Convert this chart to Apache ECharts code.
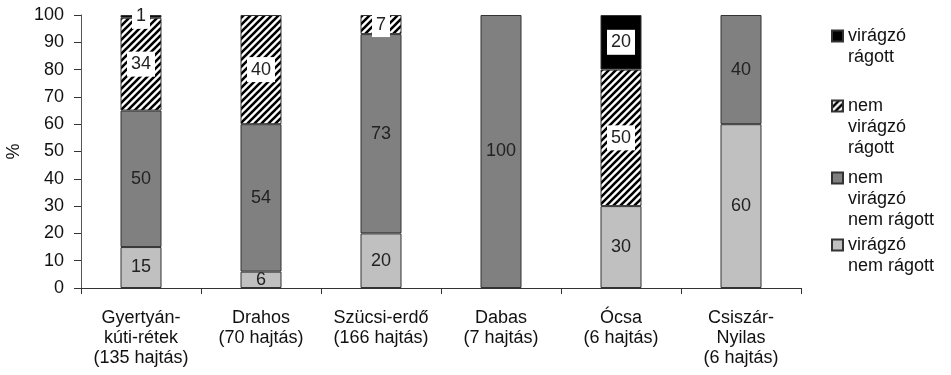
<!DOCTYPE html>
<html>
<head>
<meta charset="utf-8">
<script src="https://cdn.jsdelivr.net/npm/echarts@6/dist/echarts.min.js"></script>
<style>
  html, body { margin: 0; padding: 0; background: #fff; }
  #chart { width: 951px; height: 375px; }
</style>
</head>
<body>
<div id="chart"></div>
<script>
// Sites (with number of shoots sampled)
const categories = [
  'Gyertyán-\nkúti-rétek\n(135 hajtás)',
  'Drahos\n(70 hajtás)',
  'Szücsi-erdő\n(166 hajtás)',
  'Dabas\n(7 hajtás)',
  'Ócsa\n(6 hajtás)',
  'Csiszár-\nNyilas\n(6 hajtás)'
];

// Percentages per shoot type, bottom to top of each stack
const viragzoNemRagott    = [15, 6, 20, 0, 30, 60];
const nemViragzoNemRagott = [50, 54, 73, 100, 0, 40];
const nemViragzoRagott    = [34, 40, 7, 0, 50, 0];
const viragzoRagott       = [1, 0, 0, 0, 20, 0];

const seriesNames = [
  'virágzó\nnem rágott',
  'nem\nvirágzó\nnem rágott',
  'nem\nvirágzó\nrágott',
  'virágzó\nrágott'
];

const yMin = 0, yMax = 100, yStep = 10;

const FONT = 'Liberation Sans, Arial, sans-serif';
const FS = 18;

// Diagonal black/white hatch used for the "nem virágzó rágott" segments
function makeHatch() {
  const s = 7;
  const c = document.createElement('canvas');
  c.width = s; c.height = s;
  const g = c.getContext('2d');
  g.fillStyle = '#fff';
  g.fillRect(0, 0, s, s);
  g.strokeStyle = '#000';
  g.lineWidth = 2.6;
  g.beginPath();
  for (let k = -1; k <= 1; k++) {
    g.moveTo(k * s - 1, s + 1);
    g.lineTo(k * s + s + 1, -1);
  }
  g.stroke();
  return c;
}
const hatch = { image: makeHatch(), repeat: 'repeat' };

const toData = arr => arr.map(v => (v === 0 ? '-' : v));

const plainLabel = {
  show: true,
  position: 'inside',
  color: '#222',
  fontSize: FS,
  fontFamily: FONT
};
const boxedLabel = Object.assign({}, plainLabel, {
  backgroundColor: '#fff',
  padding: [4, 4, 3, 4]
});

function bar(name, values, color, label) {
  return {
    name: name,
    type: 'bar',
    stack: 'total',
    barWidth: 41,
    data: toData(values),
    itemStyle: { color: color, borderColor: '#333', borderWidth: 1 },
    label: label,
    emphasis: { disabled: true }
  };
}

// One legend block per series; blank leading lines keep the icon beside the first text line
function legendBlock(name, lineCenter, lines) {
  const lh = 21;
  return {
    data: [name],
    orient: 'vertical',
    left: 831,
    top: lineCenter - (2 * lines - 1) * lh / 2,
    padding: 0,
    itemWidth: 11,
    itemHeight: 11,
    icon: 'rect',
    selectedMode: false,
    formatter: n => '\n'.repeat(lines - 1) + n,
    textStyle: {
      fontSize: FS,
      fontFamily: FONT,
      color: '#111',
      lineHeight: lh
    }
  };
}

const chart = echarts.init(document.getElementById('chart'), null, { renderer: 'canvas' });

chart.setOption({
  animation: false,
  backgroundColor: '#fff',
  grid: { left: 81, right: 150, top: 15, bottom: 87, containLabel: false, outerBoundsMode: 'none' },
  legend: [
    legendBlock(seriesNames[3], 36, 2),
    legendBlock(seriesNames[2], 106, 3),
    legendBlock(seriesNames[1], 178, 3),
    legendBlock(seriesNames[0], 245, 2)
  ],
  xAxis: {
    type: 'category',
    data: categories,
    axisLine: { lineStyle: { color: '#333', width: 1 } },
    axisTick: { show: true, length: 6, lineStyle: { color: '#333' } },
    axisLabel: {
      fontSize: FS,
      fontFamily: FONT,
      color: '#111',
      lineHeight: 20,
      margin: 20,
      interval: 0
    }
  },
  yAxis: {
    type: 'value',
    min: yMin,
    max: yMax,
    interval: yStep,
    name: '%',
    nameLocation: 'middle',
    nameGap: 57,
    nameTextStyle: { fontSize: FS, fontFamily: FONT, color: '#111' },
    axisLine: { show: true, lineStyle: { color: '#555', width: 1 } },
    axisTick: { show: true, length: 7, lineStyle: { color: '#333' } },
    axisLabel: { fontSize: FS, fontFamily: FONT, color: '#111', margin: 17 },
    splitLine: { show: false }
  },
  series: [
    bar(seriesNames[0], viragzoNemRagott, '#c0c0c0', plainLabel),
    bar(seriesNames[1], nemViragzoNemRagott, '#808080', plainLabel),
    bar(seriesNames[2], nemViragzoRagott, hatch, boxedLabel),
    bar(seriesNames[3], viragzoRagott, '#000', boxedLabel)
  ]
});
</script>
</body>
</html>
